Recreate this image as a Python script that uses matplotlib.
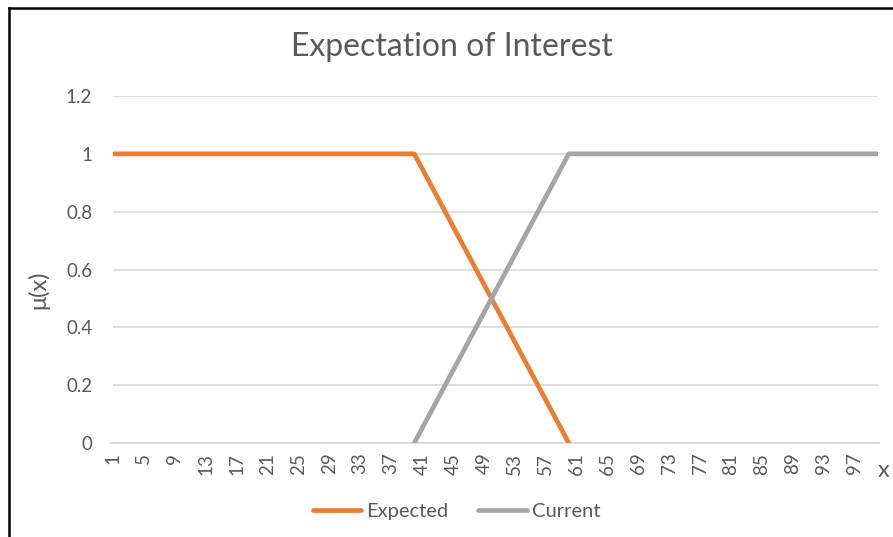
import matplotlib
matplotlib.use("Agg")
import matplotlib.pyplot as plt
from matplotlib.lines import Line2D

plt.rcParams['font.family'] = ['Lato', 'DejaVu Sans']

# Categories 1..100
categories = list(range(1, 101))

# Expected: full membership up to 40, falling to 0 at 60
expected_x = list(range(1, 61))
expected_y = [1.0, 1.0, 1.0, 1.0, 1.0, 1.0, 1.0, 1.0, 1.0, 1.0,
              1.0, 1.0, 1.0, 1.0, 1.0, 1.0, 1.0, 1.0, 1.0, 1.0,
              1.0, 1.0, 1.0, 1.0, 1.0, 1.0, 1.0, 1.0, 1.0, 1.0,
              1.0, 1.0, 1.0, 1.0, 1.0, 1.0, 1.0, 1.0, 1.0, 1.0,
              0.95, 0.90, 0.85, 0.80, 0.75, 0.70, 0.65, 0.60, 0.55, 0.50,
              0.45, 0.40, 0.35, 0.30, 0.25, 0.20, 0.15, 0.10, 0.05, 0.0]

# Current: rising from 0 at 40 to full membership at 60
current_x = list(range(40, 101))
current_y = [0.0, 0.05, 0.10, 0.15, 0.20, 0.25, 0.30, 0.35, 0.40, 0.45,
             0.50, 0.55, 0.60, 0.65, 0.70, 0.75, 0.80, 0.85, 0.90, 0.95,
             1.0, 1.0, 1.0, 1.0, 1.0, 1.0, 1.0, 1.0, 1.0, 1.0,
             1.0, 1.0, 1.0, 1.0, 1.0, 1.0, 1.0, 1.0, 1.0, 1.0,
             1.0, 1.0, 1.0, 1.0, 1.0, 1.0, 1.0, 1.0, 1.0, 1.0,
             1.0, 1.0, 1.0, 1.0, 1.0, 1.0, 1.0, 1.0, 1.0, 1.0,
             1.0]

x_tick_labels = [str(c) for c in categories[::4]]
y_ticks = [0, 0.2, 0.4, 0.6, 0.8, 1, 1.2]
y_tick_labels = ['0', '0.2', '0.4', '0.6', '0.8', '1', '1.2']

ORANGE = '#ED7D31'
GRAY = '#A5A5A5'
TEXT = '#595959'
GRID = '#D9D9D9'

fig = plt.figure(figsize=(8.93, 5.37), dpi=100)
ax = fig.add_axes([0.1265, 0.175, 0.8565, 0.6462])

ax.plot(expected_x, expected_y, color=ORANGE, lw=3.4, solid_capstyle='round',
        solid_joinstyle='round', zorder=3)
ax.plot(current_x, current_y, color=GRAY, lw=3.4, solid_capstyle='round',
        solid_joinstyle='round', zorder=3)

ax.set_xlim(1, 100)
ax.set_ylim(0, 1.2)
ax.set_yticks(y_ticks)
ax.set_yticklabels(y_tick_labels)
ax.set_xticks(categories[::4])
ax.set_xticklabels(x_tick_labels, rotation=90)

ax.grid(axis='y', color=GRID, lw=1.2, zorder=0)
ax.set_axisbelow(True)
for s in ['top', 'right', 'left']:
    ax.spines[s].set_visible(False)
ax.spines['bottom'].set_color(GRID)
ax.spines['bottom'].set_linewidth(1.2)
ax.spines['bottom'].set_bounds(0.8, 100.2)

ax.tick_params(axis='both', length=0, colors=TEXT, labelsize=13.5)
ax.tick_params(axis='y', pad=15)
ax.tick_params(axis='x', pad=7)

fig.text(0.5065, 0.913, 'Expectation of Interest', ha='center', va='center',
         fontsize=23, color=TEXT)
fig.text(0.043, 0.46, 'μ(x)', rotation=90, ha='center', va='center',
         fontsize=17, color=TEXT)
fig.text(0.99, 0.124, 'x', ha='center', va='center', fontsize=17, color=TEXT)

handles = [Line2D([], [], color=ORANGE, lw=3.4, solid_capstyle='round'),
           Line2D([], [], color=GRAY, lw=3.4, solid_capstyle='round')]
fig.legend(handles, ['Expected', 'Current'], loc='center',
           bbox_to_anchor=(0.511, 0.048), ncol=2, frameon=False,
           fontsize=14.5, labelcolor=TEXT, handlelength=2.4, handletextpad=0.25,
           columnspacing=1.5)

# Outer frame (left and top edges)
fig.add_artist(Line2D([0.0101, 0.0101], [0, 0.985], color='black', lw=1.8,
                      transform=fig.transFigure))
fig.add_artist(Line2D([0.0101, 1.0], [0.985, 0.985], color='black', lw=1.8,
                      transform=fig.transFigure))

fig.savefig('out.png', dpi=100)
